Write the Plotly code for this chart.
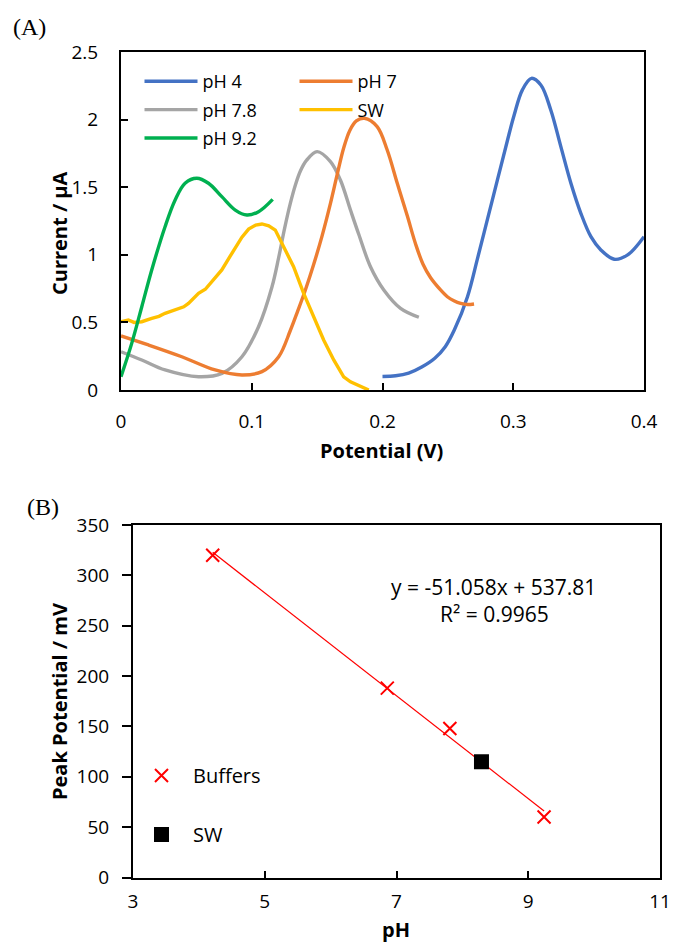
import plotly.graph_objects as go

# ---------------- data: panel (A) square-wave voltammograms ----------------
ph4_v = [0.200, 0.210, 0.220, 0.230, 0.240, 0.248, 0.255, 0.265, 0.2726, 0.2802, 0.2878,
         0.2954, 0.3006, 0.307, 0.3139, 0.3211, 0.3287, 0.3364, 0.3441, 0.3517, 0.3594,
         0.367, 0.3772, 0.3875, 0.400]
ph4_i = [0.10, 0.105, 0.125, 0.17, 0.235, 0.32, 0.445, 0.69, 0.97, 1.26, 1.55,
         1.84, 2.03, 2.22, 2.305, 2.256, 2.071, 1.80, 1.529, 1.307, 1.134,
         1.036, 0.967, 0.999, 1.134]

ph7_v = [0.000, 0.021, 0.0465, 0.072, 0.0925, 0.1078, 0.1206, 0.1295, 0.135, 0.141,
         0.1474, 0.1538, 0.1602, 0.1655, 0.1703, 0.175, 0.180, 0.1862, 0.1959, 0.2036,
         0.2113, 0.2189, 0.2253, 0.231, 0.2368, 0.2444, 0.2496, 0.2546, 0.2598, 0.265, 0.270]
ph7_i = [0.40, 0.333, 0.246, 0.148, 0.111, 0.136, 0.246, 0.44, 0.58, 0.74,
         0.93, 1.14, 1.38, 1.60, 1.79, 1.92, 1.99, 2.01, 1.948, 1.775,
         1.529, 1.29, 1.08, 0.93, 0.83, 0.74, 0.69, 0.66, 0.64, 0.632, 0.636]

ph78_v = [0.000, 0.0159, 0.0337, 0.0593, 0.0772, 0.0925, 0.1052, 0.1155, 0.1206, 0.125,
          0.1295, 0.1335, 0.1372, 0.142, 0.150, 0.1602, 0.1678, 0.1755, 0.1819, 0.1908,
          0.201, 0.2138, 0.2278]
ph78_i = [0.283, 0.222, 0.148, 0.098, 0.123, 0.246, 0.468, 0.764, 0.98, 1.19,
          1.38, 1.52, 1.62, 1.70, 1.763, 1.689, 1.553, 1.331, 1.15, 0.912,
          0.74, 0.604, 0.538]

ph92_v = [0.000, 0.0082, 0.0159, 0.0235, 0.0337, 0.0414, 0.049, 0.058, 0.0669, 0.0771,
          0.0874, 0.0963, 0.1052, 0.116]
ph92_i = [0.098, 0.345, 0.616, 0.888, 1.208, 1.405, 1.529, 1.566, 1.529, 1.43,
          1.331, 1.294, 1.319, 1.41]

sw_v = [0.000, 0.0056, 0.010, 0.0159, 0.0235, 0.029, 0.0337, 0.039, 0.0439, 0.048, 0.0516,
        0.0593, 0.0645, 0.0695, 0.0771, 0.0835, 0.0874, 0.0925, 0.0976, 0.1030, 0.1078,
        0.1130, 0.118, 0.1218, 0.127, 0.132, 0.1397, 0.1474, 0.155, 0.1627, 0.1703,
        0.1755, 0.1806, 0.1895]
sw_i = [0.505, 0.518, 0.50, 0.505, 0.53, 0.545, 0.567, 0.585, 0.604, 0.615, 0.641,
        0.715, 0.745, 0.801, 0.888, 0.99, 1.05, 1.13, 1.19, 1.22, 1.228,
        1.215, 1.183, 1.11, 1.02, 0.912, 0.715, 0.542, 0.37, 0.222, 0.098,
        0.06, 0.037, 0.0]

# ---------------- data: panel (B) peak potential vs pH ----------------
buffer_ph = [4.21, 6.86, 7.81, 9.24]
buffer_peak_mv = [320, 188, 148, 60]
sw_ph = [8.29]
sw_peak_mv = [115]
fit_slope = -51.058
fit_intercept = 537.81
fit_r2 = 0.9965

# ---------------- figure ----------------
W, H = 674, 943
FONT = "Open Sans"
FS = 18      # panel A legend text
FS_B = 20    # panel B legend text
EQ_FS = 21   # regression text
TFS = 19     # tick labels
AFS = 20     # axis titles
LW = 3.4     # voltammogram line width


def fx(p):
    return p / W


def fy(p):
    return 1 - p / H


fig = go.Figure()

curve = dict(mode="lines", xaxis="x", yaxis="y")
spl = dict(width=LW, shape="spline", smoothing=1.0)
fig.add_trace(go.Scatter(x=ph4_v, y=ph4_i, name="pH 4", legend="legend", legendgroup="a1",
                         line=dict(color="#4472C4", **spl), **curve))
fig.add_trace(go.Scatter(x=ph78_v, y=ph78_i, name="pH 7.8", legend="legend", legendgroup="a2",
                         line=dict(color="#A5A5A5", **spl), **curve))
fig.add_trace(go.Scatter(x=ph7_v, y=ph7_i, name="pH 7", legend="legend2", legendgroup="a3",
                         line=dict(color="#ED7D31", **spl), **curve))
fig.add_trace(go.Scatter(x=sw_v, y=sw_i, name="SW", legend="legend2", legendgroup="a4",
                         line=dict(color="#FFC000", width=LW), **curve))
fig.add_trace(go.Scatter(x=ph92_v, y=ph92_i, name="pH 9.2", legend="legend", legendgroup="a5",
                         line=dict(color="#00B050", **spl), **curve))

# trendline from displayed regression coefficients
fit_x = [min(buffer_ph), max(buffer_ph)]
fit_y = [fit_slope * v + fit_intercept for v in fit_x]
fig.add_trace(go.Scatter(x=fit_x, y=fit_y, mode="lines", showlegend=False, hoverinfo="skip",
                         line=dict(color="#FF0000", width=1.2), xaxis="x2", yaxis="y2"))
fig.add_trace(go.Scatter(x=buffer_ph, y=buffer_peak_mv, mode="markers", name="Buffers",
                         legend="legend3", legendgroup="b",
                         marker=dict(symbol="x-thin", size=13, color="#FF0000",
                                     line=dict(color="#FF0000", width=2)),
                         xaxis="x2", yaxis="y2"))
fig.add_trace(go.Scatter(x=sw_ph, y=sw_peak_mv, mode="markers", name="SW",
                         legend="legend3", legendgroup="s",
                         marker=dict(symbol="square", size=15, color="#000000"),
                         xaxis="x2", yaxis="y2"))

axis_common = dict(showgrid=False, zeroline=False, showline=True, linecolor="black",
                   linewidth=2, mirror=True, tickcolor="black", tickwidth=1.5,
                   automargin=False,
                   tickfont=dict(family=FONT, size=TFS, color="black"))

leg_common = dict(xanchor="left", yanchor="top", bgcolor="rgba(0,0,0,0)")

fig.update_layout(
    width=W, height=H, margin=dict(l=0, r=0, t=0, b=0, autoexpand=False),
    paper_bgcolor="white", plot_bgcolor="white",
    font=dict(family=FONT, size=FS, color="black"),
    xaxis=dict(domain=[fx(121), fx(644)], anchor="y", range=[0, 0.4], dtick=0.1, tick0=0,
               ticks="inside", ticklen=7, ticklabelstandoff=13, **axis_common),
    yaxis=dict(domain=[fy(390), fy(52)], anchor="x", range=[0, 2.5], dtick=0.5, tick0=0,
               ticks="inside", ticklen=7, ticklabelstandoff=17, **axis_common),
    xaxis2=dict(domain=[fx(133), fx(660)], anchor="y2", range=[3, 11], dtick=2, tick0=3,
                ticks="inside", ticklen=7, ticklabelstandoff=6, **axis_common),
    yaxis2=dict(domain=[fy(877.5), fy(525)], anchor="x2", range=[0, 350], dtick=50, tick0=0,
                ticks="outside", ticklen=9, ticklabelstandoff=9, **axis_common),
    legend=dict(x=fx(139.5), y=fy(63), itemwidth=53, traceorder="grouped", tracegroupgap=2,
                font=dict(family=FONT, size=FS, color="black"), **leg_common),
    legend2=dict(x=fx(294.5), y=fy(63), itemwidth=53, traceorder="grouped", tracegroupgap=2,
                 font=dict(family=FONT, size=FS, color="black"), **leg_common),
    legend3=dict(x=fx(130), y=fy(756), itemwidth=53, traceorder="grouped", tracegroupgap=30,
                 font=dict(family=FONT, size=FS_B, color="black"), **leg_common),
    showlegend=True,
)

ann_common = dict(xref="paper", yref="paper", showarrow=False, xanchor="center", yanchor="middle")
ann = [
    dict(text="(A)", x=fx(29), y=fy(27), font=dict(family="Liberation Serif", size=24, color="black"),
         **ann_common),
    dict(text="(B)", x=fx(43), y=fy(507), font=dict(family="Liberation Serif", size=24, color="black"),
         **ann_common),
    dict(text="<b>Current / µA</b>", x=fx(60), y=fy(233), textangle=-90,
         font=dict(family=FONT, size=AFS, color="black"), **ann_common),
    dict(text="<b>Potential (V)</b>", x=fx(381), y=fy(450),
         font=dict(family=FONT, size=AFS, color="black"), **ann_common),
    dict(text="<b>Peak Potential / mV</b>", x=fx(59), y=fy(702), textangle=-90,
         font=dict(family=FONT, size=AFS, color="black"), **ann_common),
    dict(text="<b>pH</b>", x=fx(396), y=fy(929),
         font=dict(family=FONT, size=AFS, color="black"), **ann_common),
    dict(text=f"y = {fit_slope}x + {fit_intercept}", x=fx(493), y=fy(587),
         font=dict(family=FONT, size=EQ_FS, color="black"), **ann_common),
    dict(text=f"R² = {fit_r2}", x=fx(494), y=fy(614),
         font=dict(family=FONT, size=EQ_FS, color="black"), **ann_common),
]
fig.update_layout(annotations=ann)

fig.write_html("out.html", config={"displayModeBar": False},
               post_script="document.body.style.margin='0';document.body.style.overflow='hidden';")
